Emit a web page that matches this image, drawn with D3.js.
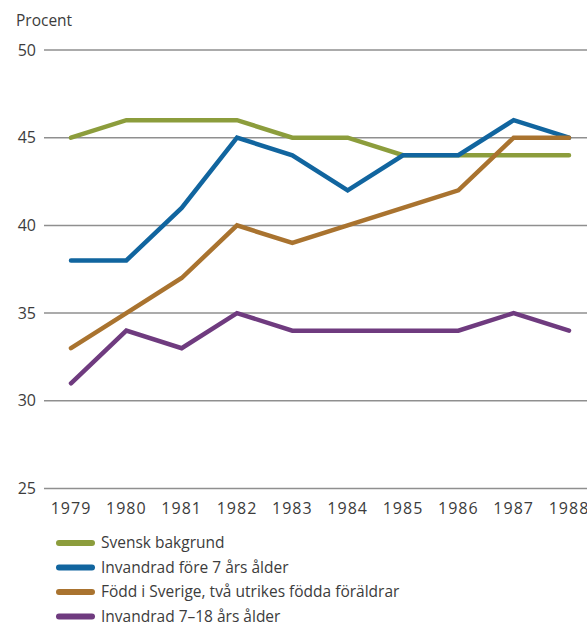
<!DOCTYPE html>
<html>
<head>
<meta charset="utf-8">
<script src="https://cdn.jsdelivr.net/npm/d3@7"></script>
<style>
  body { margin: 0; background: #fff; }
  text { font-family: "Open Sans", sans-serif; fill: #3c3c3c; }
</style>
</head>
<body>
<svg id="chart" width="587" height="626"></svg>
<script>
// Data.
var years = [1979, 1980, 1981, 1982, 1983, 1984, 1985, 1986, 1987, 1988];
var svensk = [45, 46, 46, 46, 45, 45, 44, 44, 44, 44];
var foreSju = [38, 38, 41, 45, 44, 42, 44, 44, 46, 45];
var foddSverige = [33, 35, 37, 40, 39, 40, 41, 42, 45, 45];
var sjuArton = [31, 34, 33, 35, 34, 34, 34, 34, 35, 34];
var yTicks = [25, 30, 35, 40, 45, 50];

var seriesNames = ["Svensk bakgrund", "Invandrad före 7 års ålder",
                   "Född i Sverige, två utrikes födda föräldrar", "Invandrad 7\u201318 års ålder"];
var seriesColors = ["#8c9d3c", "#11659f", "#a9732f", "#6f3b7f"];
var seriesValues = [svensk, foreSju, foddSverige, sjuArton];

var svg = d3.select("#chart");

var x = d3.scalePoint().domain(years).range([71, 569]);
var y = d3.scaleLinear().domain([25, 50]).range([488.5, 50]);

// Gridlines and y labels
var grid = svg.append("g");
grid.selectAll("line")
  .data(yTicks)
  .enter().append("line")
  .attr("x1", 44).attr("x2", 587)
  .attr("y1", function(d) { return y(d); })
  .attr("y2", function(d) { return y(d); })
  .attr("stroke", "#8f8f8f")
  .attr("stroke-width", 1.5);

grid.selectAll("text")
  .data(yTicks)
  .enter().append("text")
  .attr("x", 36)
  .attr("y", function(d) { return y(d); })
  .attr("dy", "0.35em")
  .attr("text-anchor", "end")
  .style("font-size", "16px")
  .text(function(d) { return d; });

svg.append("text")
  .attr("x", 16).attr("y", 26)
  .style("font-size", "15.5px")
  .text("Procent");

// x labels (the last one runs into the edge, as in the original)
svg.append("g").selectAll("text")
  .data(years)
  .enter().append("text")
  .attr("x", function(d) { return x(d); })
  .attr("y", 514)
  .attr("text-anchor", "middle")
  .style("font-size", "16px")
  .style("letter-spacing", "1px")
  .text(function(d) { return d; });

// Lines
var line = d3.line()
  .x(function(d, i) { return x(years[i]); })
  .y(function(d) { return y(d); });

svg.append("g").selectAll("path")
  .data(seriesValues)
  .enter().append("path")
  .attr("d", function(d) { return line(d); })
  .attr("fill", "none")
  .attr("stroke", function(d, i) { return seriesColors[i]; })
  .attr("stroke-width", 4.5)
  .attr("stroke-linejoin", "miter")
  .attr("stroke-linecap", "round");

// Legend
var legend = svg.append("g").selectAll("g")
  .data(seriesNames)
  .enter().append("g")
  .attr("transform", function(d, i) { return "translate(0," + (543 + i * 24.5) + ")"; });

legend.append("line")
  .attr("x1", 59).attr("x2", 92)
  .attr("stroke", function(d, i) { return seriesColors[i]; })
  .attr("stroke-width", 6)
  .attr("stroke-linecap", "round");

legend.append("text")
  .attr("x", 101)
  .attr("dy", "0.35em")
  .style("font-size", "15.5px")
  .text(function(d) { return d; });
</script>
</body>
</html>
